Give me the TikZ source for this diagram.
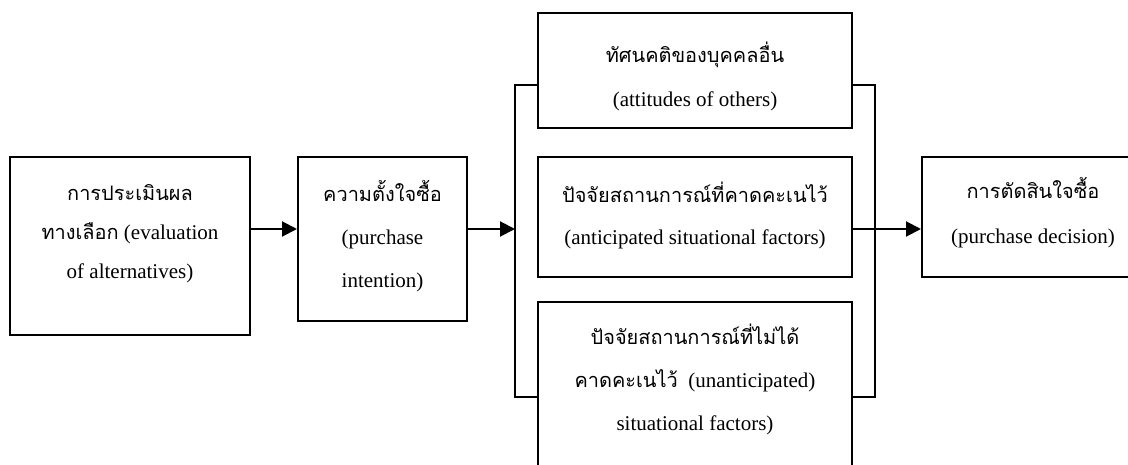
\documentclass[tikz,border=0pt]{standalone}
\usepackage{fontspec}
\setmainfont{Liberation Serif}
\newfontfamily\thai[Script=Thai,Scale=0.95]{Loma}
\usetikzlibrary{arrows.meta}
\tikzset{
  box/.style={draw=black, line width=2pt, inner sep=0pt, fill=white},
  lbl/.style={align=center, font=\fontsize{21}{41}\selectfont, inner sep=0pt},
  wire/.style={line width=2pt, line join=miter},
  arr/.style={wire, -{Triangle[length=15pt,width=15pt]}},
}
\begin{document}
\begin{tikzpicture}[x=1pt,y=-1pt]
\useasboundingbox (0,0) rectangle (1128,465);
\clip (0,0) rectangle (1128,465);
\fill[white] (0,0) rectangle (1128,465);
% boxes
\node[box, minimum width=240pt, minimum height=178pt] (b1) at (130,246) {};
\node[box, minimum width=169pt, minimum height=164pt] (b2) at (382.5,239) {};
\node[box, minimum width=314pt, minimum height=115pt] (bT) at (695,70.5) {};
\node[box, minimum width=314pt, minimum height=120pt] (bM) at (695,217) {};
\node[box, minimum width=314pt, minimum height=200pt] (bB) at (695,402) {};
\node[box, minimum width=240pt, minimum height=120pt] (bD) at (1042,217) {};
% texts
\node[lbl, font=\fontsize{21}{39}\selectfont] (t1) at (130,234) {{\thai การประเมินผล}\\{\thai ทางเลือก} (evaluation\\of alternatives)};
\node[lbl, font=\fontsize{21}{43}\selectfont] (t2) at (382.5,236) {{\thai ความตั้งใจซื้อ}\\(purchase\\intention)};
\node[lbl, font=\fontsize{21}{44}\selectfont] (tT) at (695,76) {{\thai ทัศนคติของบุคคลอื่น}\\(attitudes of others)};
\node[lbl, font=\fontsize{21}{42}\selectfont] (tM) at (695,215) {{\thai ปัจจัยสถานการณ์ที่คาดคะเนไว้}\\(anticipated situational factors)};
\node[lbl, font=\fontsize{21}{43}\selectfont] (tB) at (695,379) {{\thai ปัจจัยสถานการณ์ที่ไม่ได้}\\{\thai คาดคะเนไว้}\ \ (unanticipated)\\situational factors)};
\node[lbl, font=\fontsize{21}{45}\selectfont] (tD) at (1033,213) {{\thai การตัดสินใจซื้อ}\\(purchase decision)};
% coordinates
\coordinate (m) at (0,229);
\coordinate (LT) at (515,85);
\coordinate (LB) at (515,397);
\coordinate (RT) at (875,85);
\coordinate (RB) at (875,397);
\coordinate (RM) at (875,229);
% connectors
\draw[arr] (b1.east |- m) -- (b2.west |- m);
\draw[arr] (b2.east |- m) -- (m -| LT);
\draw[wire] (bT.west |- LT) -- (LT) -- (LB) -- (bB.west |- LB);
\draw[wire] (bT.east |- RT) -- (RT) -- (RB) -- (bB.east |- RB);
\draw[wire] (bM.east |- RM) -- (RM);
\draw[arr] (RM) -- (bD.west |- RM);
\end{tikzpicture}
\end{document}
